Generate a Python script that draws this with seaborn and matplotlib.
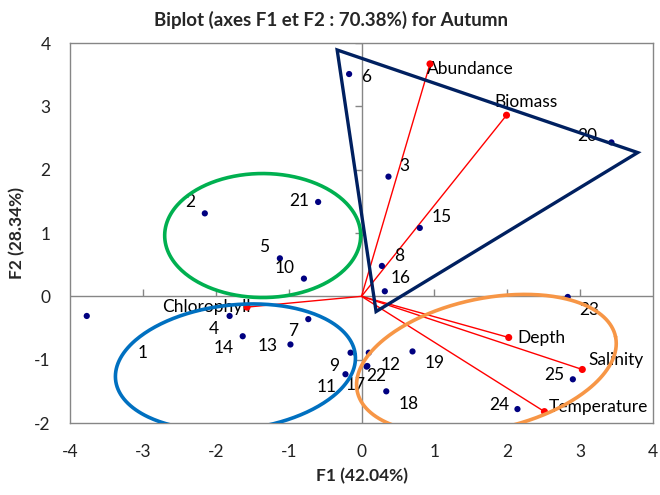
import numpy as np
import pandas as pd
import matplotlib
matplotlib.use("Agg")
import matplotlib.pyplot as plt
import seaborn as sns

# Observation scores on the first two factorial axes
obs_ids = [str(i) for i in range(1, 26)]
obs_f1 = [-3.77, -2.15, 0.37, -1.81, -1.12, -0.17, -0.73, 0.28, -0.15, -0.79,
          -0.22, 0.10, -0.975, -1.63, 0.80, 0.32, 0.07, 0.34, 0.70, 3.43,
          -0.595, 0.08, 2.83, 2.14, 2.90]
obs_f2 = [-0.31, 1.31, 1.89, -0.31, 0.60, 3.51, -0.36, 0.48, -0.89, 0.28,
          -1.23, -0.89, -0.76, -0.63, 1.08, 0.08, -1.11, -1.50, -0.87, 2.43,
          1.49, -1.10, -0.01, -1.78, -1.31]

# Variable loadings (scaled)
var_names = ["Abundance", "Biomass", "Depth", "Salinity", "Temperature", "Chlorophyll"]
var_f1 = [0.94, 1.99, 2.02, 3.03, 2.51, -1.57]
var_f2 = [3.67, 2.86, -0.65, -1.155, -1.82, -0.17]

# Label placement (pixels relative to the point)
obs_label_offsets = {
    "1": (56, -37), "2": (-15, 11), "3": (16, 11), "4": (-16, -13), "5": (-16, 11),
    "6": (17, -3), "7": (-15, -12), "8": (17, 10), "9": (-16, -13), "10": (-19, 11),
    "11": (-19, -13), "12": (22, -12), "13": (-23, -2), "14": (-19, -12), "15": (22, 11),
    "16": (16, 13), "17": (-11, -18), "18": (22, -13), "19": (22, -12), "20": (-24, 6),
    "21": (-19, 1), "22": (9, -10), "23": (22, -13), "24": (-18, 4), "25": (-19, 4),
}
var_label_offsets = {
    "Abundance": (-3, -5, "left"), "Biomass": (-12, 13, "left"), "Depth": (9, 0, "left"),
    "Salinity": (6, 9, "left"), "Temperature": (4, 5, "left"), "Chlorophyll": (4, 0, "right"),
}

# Group outlines: ellipses (centre in data units, semi-axes in pixels, tilt in degrees)
ellipse_centers = [(-1.356, 0.96), (-1.73, -1.12), (1.714, -1.07)]
ellipse_axes_px = [(98, 62), (120.5, 62.4), (132, 65.5)]
ellipse_tilts = [0, 6, 12]
ellipse_colors = ["#00B050", "#0070C0", "#F79646"]

# Triangle outline around the upper-right group
triangle_f1 = [-0.334, 3.79, 0.20]
triangle_f2 = [3.89, 2.27, -0.24]

xticks = [-4, -3, -2, -1, 0, 1, 2, 3, 4]
yticks = [-2, -1, 0, 1, 2, 3, 4]

sns.set_theme(style="white")
plt.rcParams["font.family"] = ["Lato", "DejaVu Sans"]

fig = plt.figure(figsize=(6.6, 4.95), dpi=100)
ax = fig.add_axes([70 / 660, 1 - 423 / 495, 583 / 660, 380 / 495])
ax.set_xlim(-4, 4)
ax.set_ylim(-2, 4)

grey = "#868686"
for s in ax.spines.values():
    s.set_color(grey)
    s.set_linewidth(1.0)

fs = 12.5
ax.set_xticks(xticks)
ax.set_yticks(yticks)
ax.set_xticklabels([str(t) for t in xticks])
ax.set_yticklabels([str(t) for t in yticks])
ax.tick_params(axis="both", length=0, labelsize=fs, colors="#222222")
ax.tick_params(axis="x", pad=15)
ax.tick_params(axis="y", pad=14)

# Axes through the origin with tick marks
ax.axhline(0, color=grey, lw=1.0, zorder=1)
ax.axvline(0, color=grey, lw=1.0, zorder=1)
ax.plot([t for t in xticks if t not in (-4, 0, 4)], [0] * 6, ls="", marker=2,
        ms=5, mew=1.0, color=grey, zorder=1)
ax.plot([0] * 5, [t for t in yticks if t not in (-2, 0)], ls="", marker=0,
        ms=5, mew=1.0, color=grey, zorder=1)

# Variable vectors
for vx, vy in zip(var_f1, var_f2):
    ax.plot([0, vx], [0, vy], color="red", lw=1.0, zorder=2)

obs = pd.DataFrame({"F1": obs_f1, "F2": obs_f2, "id": obs_ids})
var = pd.DataFrame({"F1": var_f1, "F2": var_f2, "name": var_names})
sns.scatterplot(data=obs, x="F1", y="F2", ax=ax, color="#000080", s=20,
                edgecolor="none", zorder=3)
sns.scatterplot(data=var, x="F1", y="F2", ax=ax, color="red", s=26,
                edgecolor="none", zorder=4)
ax.set_xlabel("F1 (42.04%)", fontsize=fs, fontweight="bold", labelpad=6)
ax.set_ylabel("F2 (28.34%)", fontsize=fs, fontweight="bold", labelpad=6)
title = ax.set_title("Biplot (axes F1 et F2 : 70.38%) for Autumn", fontsize=13.5,
                     fontweight="bold", pad=12)
title.set_x((331 - 70) / 583)

for i, x, y in zip(obs_ids, obs_f1, obs_f2):
    dx, dy = obs_label_offsets[i]
    ax.annotate(i, (x, y), xytext=(dx, dy), textcoords="offset pixels",
                ha="center", va="center", fontsize=fs, color="black", zorder=3)
for n, x, y in zip(var_names, var_f1, var_f2):
    dx, dy, ha = var_label_offsets[n]
    ax.annotate(n, (x, y), xytext=(dx, dy), textcoords="offset pixels",
                ha=ha, va="center", fontsize=fs, color="black", zorder=3)

# Pixel scale of the data axes, used to draw the tilted outlines
p0 = ax.transData.transform((0, 0))
sx = ax.transData.transform((1, 0))[0] - p0[0]
sy = ax.transData.transform((0, 1))[1] - p0[1]
t = np.linspace(0, 2 * np.pi, 300)
for (cx, cy), (a, b), tilt, col in zip(ellipse_centers, ellipse_axes_px,
                                       ellipse_tilts, ellipse_colors):
    th = np.deg2rad(tilt)
    px = a * np.cos(t) * np.cos(th) - b * np.sin(t) * np.sin(th)
    py = a * np.cos(t) * np.sin(th) + b * np.sin(t) * np.cos(th)
    ax.plot(cx + px / sx, cy + py / sy, color=col, lw=2.6, zorder=5)

ax.fill(triangle_f1, triangle_f2, fill=False, edgecolor="#002060", lw=2.4,
        joinstyle="miter", zorder=5)

fig.savefig("out.png", dpi=100)
